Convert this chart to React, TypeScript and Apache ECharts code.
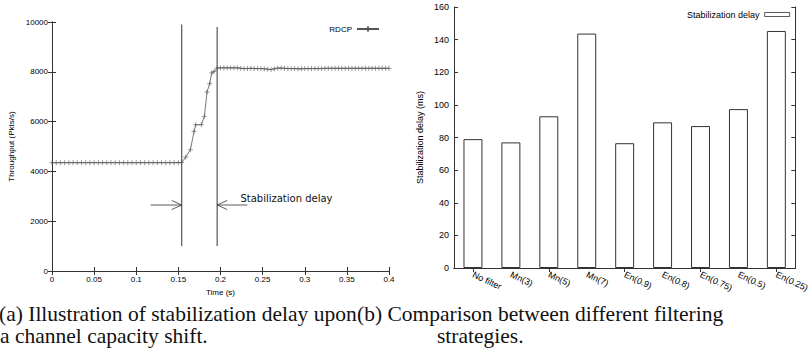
import React, { useEffect, useRef } from "react";
import * as echarts from "echarts";

// ---------- (a) throughput trace ----------
const timeTicksLabel = "Time (s)";
const throughputName = "Throughput (Pkts/s)";
const rdcpTrace: [number, number][] = [
  [0, 4350], [0.005, 4350], [0.01, 4350], [0.015, 4350], [0.02, 4350], [0.025, 4350],
  [0.03, 4350], [0.035, 4350], [0.04, 4350], [0.045, 4350], [0.05, 4350], [0.055, 4350],
  [0.06, 4350], [0.065, 4350], [0.07, 4350], [0.075, 4350], [0.08, 4350], [0.085, 4350],
  [0.09, 4350], [0.095, 4350], [0.1, 4350], [0.105, 4350], [0.11, 4350], [0.115, 4350],
  [0.12, 4350], [0.125, 4350], [0.13, 4350], [0.135, 4350], [0.14, 4350], [0.145, 4350],
  [0.15, 4350], [0.154, 4360],
  [0.1587, 4575], [0.1643, 4870], [0.1686, 5610], [0.1706, 5875], [0.1773, 5875],
  [0.1809, 6210], [0.184, 7190], [0.1872, 7525], [0.1896, 7955], [0.1923, 8010],
  [0.196, 8150], [0.2, 8160], [0.204, 8160], [0.208, 8160], [0.212, 8160], [0.216, 8160],
  [0.22, 8160], [0.224, 8140], [0.228, 8130], [0.232, 8130], [0.236, 8140], [0.24, 8130],
  [0.244, 8130], [0.248, 8130], [0.252, 8120], [0.256, 8100], [0.26, 8090], [0.264, 8120],
  [0.268, 8150], [0.272, 8150], [0.276, 8140], [0.28, 8130], [0.284, 8130], [0.288, 8130],
  [0.292, 8120], [0.296, 8120], [0.3, 8130], [0.304, 8130], [0.308, 8130], [0.312, 8130],
  [0.316, 8130], [0.32, 8130], [0.324, 8140], [0.328, 8140], [0.332, 8140], [0.336, 8140],
  [0.34, 8140], [0.344, 8140], [0.348, 8140], [0.352, 8140], [0.356, 8140], [0.36, 8140],
  [0.364, 8140], [0.368, 8140], [0.372, 8140], [0.376, 8140], [0.38, 8140], [0.384, 8140],
  [0.388, 8140], [0.392, 8140], [0.396, 8140], [0.4, 8140],
];
// vertical markers: [time, fromY, toY]
const delayMarkers: [number, number, number][] = [
  [0.154, 1000, 9900],
  [0.196, 1000, 9800],
];
// arrows: [fromTime, toTime, y]
const delayArrows: [number, number, number][] = [
  [0.117, 0.154, 2650],
  [0.232, 0.196, 2650],
];
const delayLabel: [number, number] = [0.2236, 2900];
const delayLabelText = "Stabilization delay";

// ---------- (b) filtering strategies ----------
const strategies = [
  "No filter", "Mn(3)", "Mn(5)", "Mn(7)", "En(0.9)", "En(0.8)", "En(0.75)", "En(0.5)", "En(0.25)",
];
const stabilizationDelay = [79, 77, 93, 143.7, 76.5, 89.3, 87, 97.4, 145.3];
const barSeriesName = "Stabilization delay";
const barYName = "Stabilization delay (ms)";

const captionA1 = "(a) Illustration of stabilization delay upon";
const captionA2 = "a channel capacity shift.";
const captionB1 = "(b) Comparison between different filtering";
const captionB2 = "strategies.";

const SANS = '"Liberation Sans", Arial, sans-serif';
const SERIF = '"Liberation Serif", serif';
const INK = "#333";
const TRACE = "#555";

const plusPath = "path://M0,5L10,5M5,0L5,10";
const plain = (v: number) => String(v);

export default function App() {
  const ref = useRef<HTMLDivElement>(null);
  useEffect(() => {
    document.body.style.margin = "0";
    const chart = echarts.init(ref.current!, undefined, { renderer: "svg" });
    const axisLine = { show: true, lineStyle: { color: INK, width: 1 } };
    const tickIn = { show: true, inside: true, length: 4, lineStyle: { color: INK } };
    const captionStyle = (text: string) => ({
      text,
      font: `21.5px ${SERIF}`,
      fill: "#111",
    });
    const option: any = {
      animation: false,
      textStyle: { fontFamily: SANS, color: "#000" },
      grid: [
        { left: 52, right: 423, top: 22, bottom: 86, containLabel: false },
        { left: 454, right: 12, top: 7, bottom: 89, containLabel: false },
      ],
      legend: [
        {
          data: ["RDCP"],
          right: 427,
          top: 20,
          align: "right",
          itemWidth: 22,
          itemHeight: 6,
          itemGap: 4,
          textStyle: { fontSize: 8, fontFamily: SANS, color: "#000" },
        },
        {
          data: [barSeriesName],
          right: 17,
          top: 5,
          align: "right",
          icon: "rect",
          itemWidth: 25,
          itemHeight: 4,
          itemStyle: { borderWidth: 0.8 },
          textStyle: { fontSize: 9, fontFamily: SANS, color: "#000" },
        },
      ],
      xAxis: [
        {
          type: "value", gridIndex: 0, min: 0, max: 0.4, interval: 0.05, position: "bottom",
          name: timeTicksLabel, nameLocation: "middle", nameGap: 17,
          nameTextStyle: { fontSize: 8, fontFamily: SANS, color: "#000" },
          axisLine, axisTick: tickIn, splitLine: { show: false },
          axisLabel: { fontSize: 8, margin: 4, color: "#000", formatter: plain },
        },
        {
          type: "value", gridIndex: 0, min: 0, max: 0.4, interval: 0.05, position: "top",
          axisLine, axisTick: tickIn, splitLine: { show: false }, axisLabel: { show: false },
        },
        {
          type: "category", gridIndex: 1, data: strategies, position: "bottom",
          axisLine, axisTick: { ...tickIn, alignWithLabel: true }, splitLine: { show: false },
          axisLabel: { fontSize: 9, margin: 6, rotate: -25, color: "#000", interval: 0 },
        },
        {
          type: "category", gridIndex: 1, data: strategies, position: "top",
          axisLine, axisTick: { ...tickIn, alignWithLabel: true }, splitLine: { show: false },
          axisLabel: { show: false },
        },
      ],
      yAxis: [
        {
          type: "value", gridIndex: 0, min: 0, max: 10000, interval: 2000, position: "left",
          name: throughputName, nameLocation: "middle", nameGap: 37,
          nameTextStyle: { fontSize: 8, fontFamily: SANS, color: "#000" },
          axisLine, axisTick: tickIn, splitLine: { show: false },
          axisLabel: { fontSize: 8, margin: 4, color: "#000", formatter: plain },
        },
        {
          type: "value", gridIndex: 0, min: 0, max: 10000, interval: 2000, position: "right",
          axisLine, axisTick: tickIn, splitLine: { show: false }, axisLabel: { show: false },
        },
        {
          type: "value", gridIndex: 1, min: 0, max: 160, interval: 20, position: "left",
          name: barYName, nameLocation: "middle", nameGap: 30,
          nameTextStyle: { fontSize: 9, fontFamily: SANS, color: "#000" },
          axisLine, axisTick: tickIn, splitLine: { show: false },
          axisLabel: { fontSize: 9, margin: 5, color: "#000", formatter: plain },
        },
        {
          type: "value", gridIndex: 1, min: 0, max: 160, interval: 20, position: "right",
          axisLine, axisTick: tickIn, splitLine: { show: false }, axisLabel: { show: false },
        },
      ],
      series: [
        {
          name: "RDCP",
          type: "line",
          xAxisIndex: 0,
          yAxisIndex: 0,
          data: rdcpTrace,
          symbol: plusPath,
          symbolSize: 5,
          showAllSymbol: true,
          lineStyle: { color: TRACE, width: 0.8 },
          itemStyle: { color: TRACE, borderColor: TRACE, borderWidth: 0.6 },
        },
        {
          type: "custom",
          xAxisIndex: 0,
          yAxisIndex: 0,
          data: delayMarkers,
          silent: true,
          renderItem: (_p: any, api: any) => {
            const a = api.coord([api.value(0), api.value(1)]);
            const b = api.coord([api.value(0), api.value(2)]);
            return {
              type: "line",
              shape: { x1: a[0], y1: a[1], x2: b[0], y2: b[1] },
              style: { stroke: INK, lineWidth: 1 },
            };
          },
        },
        {
          type: "custom",
          xAxisIndex: 0,
          yAxisIndex: 0,
          data: delayArrows,
          silent: true,
          encode: { x: [0, 1], y: 2 },
          renderItem: (_p: any, api: any) => {
            const a = api.coord([api.value(0), api.value(2)]);
            const b = api.coord([api.value(1), api.value(2)]);
            const dir = Math.sign(b[0] - a[0]);
            return {
              type: "group",
              children: [
                {
                  type: "line",
                  shape: { x1: a[0], y1: a[1], x2: b[0], y2: b[1] },
                  style: { stroke: INK, lineWidth: 0.8 },
                },
                {
                  type: "polyline",
                  shape: {
                    points: [
                      [b[0] - dir * 10, b[1] - 4.5],
                      [b[0], b[1]],
                      [b[0] - dir * 10, b[1] + 4.5],
                    ],
                  },
                  style: { stroke: INK, lineWidth: 0.8, fill: "none" },
                },
              ],
            };
          },
        },
        {
          type: "custom",
          xAxisIndex: 0,
          yAxisIndex: 0,
          data: [delayLabel],
          silent: true,
          renderItem: (_p: any, api: any) => {
            const p = api.coord([api.value(0), api.value(1)]);
            return {
              type: "text",
              x: p[0],
              y: p[1],
              style: {
                text: delayLabelText,
                fontSize: 10,
                fontFamily: '"DejaVu Sans", sans-serif',
                fill: "#111",
                align: "left",
                verticalAlign: "middle",
              },
            };
          },
        },
        {
          name: barSeriesName,
          type: "bar",
          xAxisIndex: 2,
          yAxisIndex: 2,
          data: stabilizationDelay,
          barWidth: "50%",
          itemStyle: { color: "#fff", borderColor: INK, borderWidth: 1 },
        },
      ],
      graphic: [
        { type: "text", left: -1, top: 303, style: captionStyle(captionA1) },
        { type: "text", left: 0, top: 325, style: captionStyle(captionA2) },
        { type: "text", left: 357, top: 303, style: captionStyle(captionB1) },
        { type: "text", left: 437, top: 325, style: captionStyle(captionB2) },
      ],
    };
    chart.setOption(option);
    return () => chart.dispose();
  }, []);
  return (
    <div
      ref={ref}
      style={{ position: "absolute", left: 0, top: 0, width: 812, height: 357 }}
    />
  );
}
